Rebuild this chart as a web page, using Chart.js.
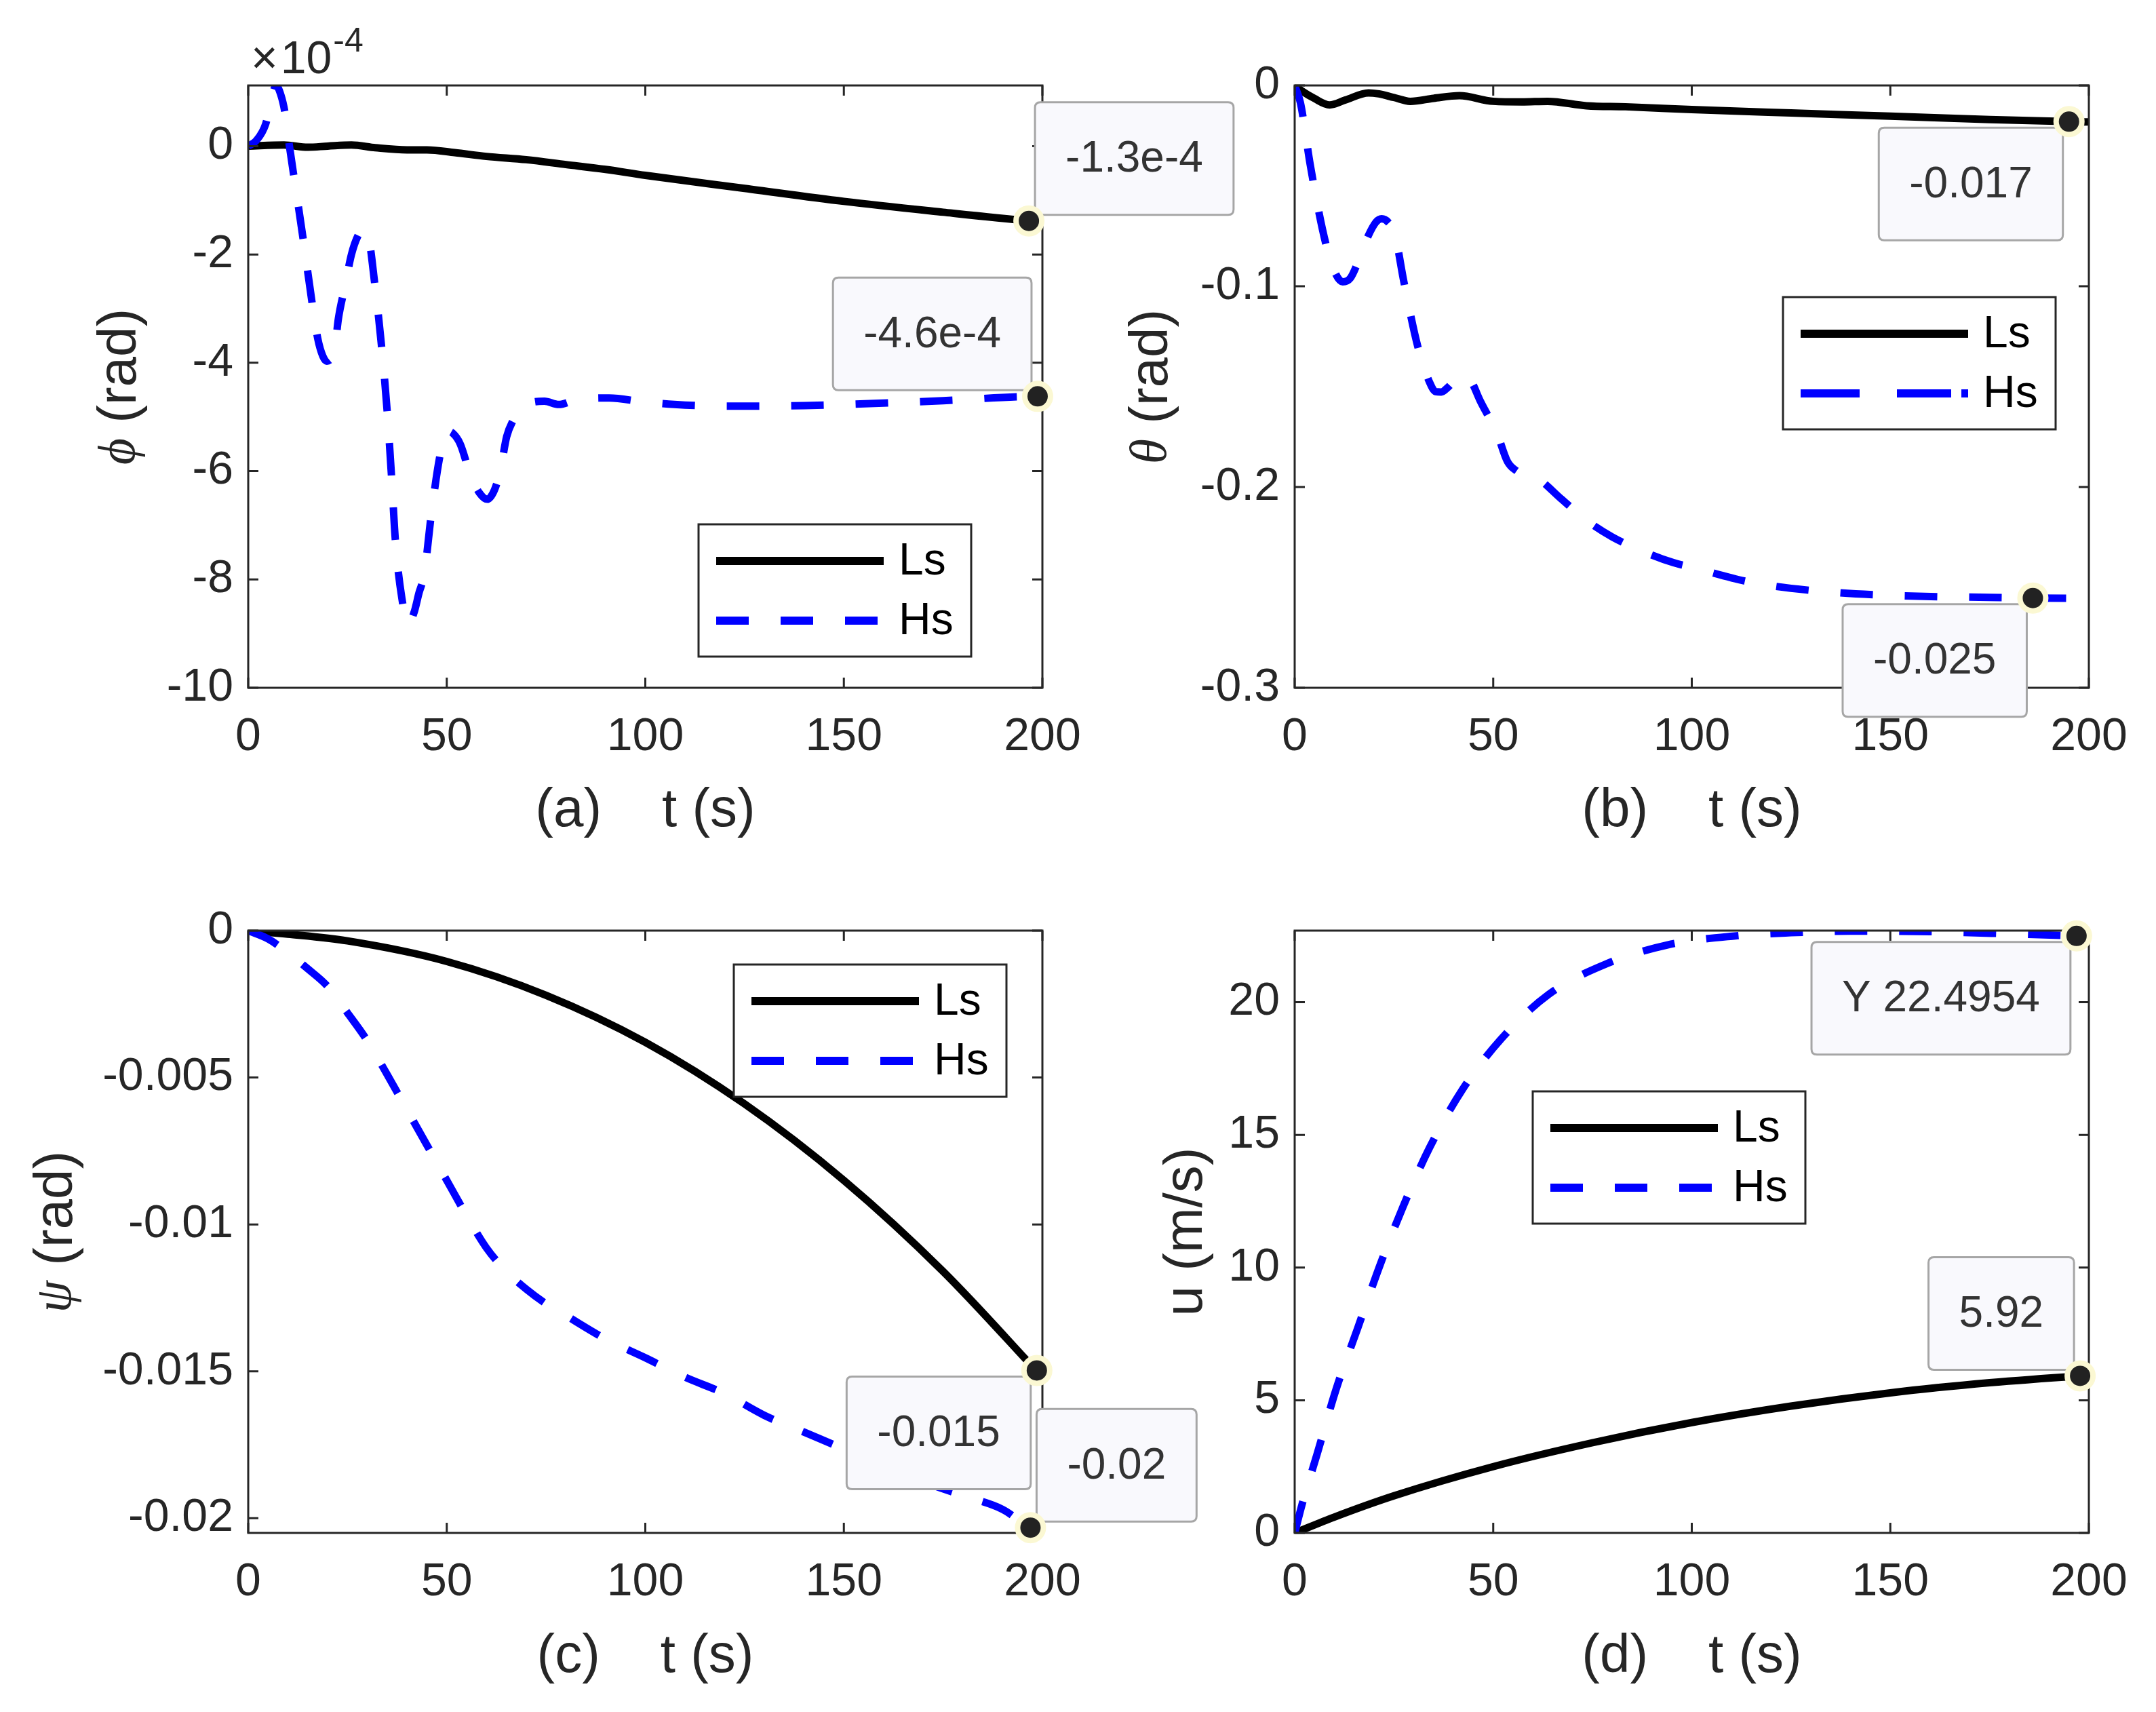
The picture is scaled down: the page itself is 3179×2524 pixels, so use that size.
<!DOCTYPE html>
<html>
<head>
<meta charset="utf-8">
<title>Ls / Hs responses</title>
<script src="https://cdn.jsdelivr.net/npm/chart.js@4.4.1/dist/chart.umd.min.js"></script>
<style>
  html, body { margin: 0; padding: 0; background: #fff; }
  #wrap { position: relative; width: 3179px; height: 2524px; }
  #wrap canvas { position: absolute; left: 0; top: 0; }
</style>
</head>
<body>
<div id="wrap">
  <canvas id="cA" width="3179" height="2524"></canvas>
  <canvas id="cB" width="3179" height="2524"></canvas>
  <canvas id="cC" width="3179" height="2524"></canvas>
  <canvas id="cD" width="3179" height="2524"></canvas>
</div>
<script>
// ---- shared time axis
const tTicks = [0, 50, 100, 150, 200];
const tTickLabels = ['0', '50', '100', '150', '200'];

// ---- (a) phi, values in units of 1e-4 rad
const phiTicks = [0, -2, -4, -6, -8, -10];
const phiTickLabels = ['0', '-2', '-4', '-6', '-8', '-10'];
const phiLsT = [0, 9, 15, 20, 26, 32, 40, 45, 52, 60, 70, 80, 90, 100, 125, 150, 175, 196.6, 200];
const phiLs = [0, 0.02, -0.02, 0, 0.02, -0.03, -0.07, -0.07, -0.12, -0.19, -0.25, -0.34, -0.43, -0.54, -0.78, -1.02, -1.22, -1.38, -1.4];
const phiHsT = [0, 2, 4.4, 5.8, 7, 8.2, 9.3, 10.3, 12, 14, 16, 17.5, 18.8, 19.8, 20.8, 21.7, 22.7, 24.3, 26, 27.6,
  28.9, 30.2, 31.85, 33.6, 35, 36.1, 37.1, 38.7, 40.3, 41.8, 43, 44.3, 46.2, 48.2, 49.9, 51.5, 53.4, 56, 58.2, 60.2,
  62, 63.5, 65.1, 66.8, 68.4, 71, 74.6, 78.2, 82.8, 90.9, 99.4, 110, 125, 140, 150, 175, 198.8, 200];
const phiHs = [0, 0.1, 0.41, 0.85, 1.12, 0.95, 0.6, 0.04, -0.8, -1.8, -2.85, -3.55, -3.88, -3.97, -3.93, -3.8, -3.19, -2.61, -2, -1.66,
  -1.54, -1.65, -2.53, -3.71, -4.9, -6.11, -7.32, -8.35, -8.83, -8.6, -8.25, -7.91, -6.74, -5.75, -5.26, -5.3, -5.5, -6.08, -6.4, -6.52,
  -6.35, -5.98, -5.36, -5.05, -4.85, -4.74, -4.71, -4.77, -4.68, -4.65, -4.72, -4.78, -4.8, -4.79, -4.77, -4.7, -4.62, -4.62];
const phiTipT = [196.6, 198.8];
const phiTipV = [-1.38, -4.62];
const phiTipText = ['-1.3e-4', '-4.6e-4'];

// ---- (b) theta
const thetaTicks = [0, -0.1, -0.2, -0.3];
const thetaTickLabels = ['0', '-0.1', '-0.2', '-0.3'];
const thetaLsT = [0, 2, 4.9, 8.8, 12.7, 18.6, 21.2, 25, 29.1, 35, 41.5, 50, 57.2, 63.7, 73.5, 83.3, 100, 125, 150, 175, 195, 200];
const thetaLs = [0, -0.003, -0.0064, -0.0097, -0.0073, -0.0037, -0.0042, -0.006, -0.0079, -0.0064, -0.0051, -0.0079, -0.0082, -0.0079,
  -0.0101, -0.0106, -0.012, -0.0137, -0.0153, -0.017, -0.018, -0.0182];
const thetaHsT = [0, 1.44, 3.9, 7, 9.5, 12.1, 14, 16, 18.5, 20.5, 21.9, 23.5, 25.2, 27.5, 31, 34, 35.5, 36.9, 38.5, 40.5, 42.8,
  44.5, 46.7, 48.7, 50.7, 53.6, 55.9, 58.5, 61.1, 67, 73.5, 80, 87.9, 95.4, 100.8, 115, 130, 150, 175, 185.9, 200];
const thetaHs = [0, -0.0086, -0.0393, -0.0717, -0.09, -0.0978, -0.096, -0.0877, -0.075, -0.068, -0.0664, -0.068, -0.074, -0.0978,
  -0.13, -0.148, -0.1525, -0.1527, -0.1505, -0.1465, -0.1444, -0.1475, -0.157, -0.1645, -0.1718, -0.1874, -0.192, -0.194, -0.1956,
  -0.2057, -0.2166, -0.2249, -0.2322, -0.2377, -0.2404, -0.2475, -0.2515, -0.254, -0.255, -0.2553, -0.2555];
const thetaTipT = [195, 185.9];
const thetaTipV = [-0.018, -0.2553];
const thetaTipText = ['-0.017', '-0.025'];

// ---- (c) psi
const psiTicks = [0, -0.005, -0.01, -0.015, -0.02];
const psiTickLabels = ['0', '-0.005', '-0.01', '-0.015', '-0.02'];
const psiLsT = [0, 10, 25, 50, 75, 100, 125, 150, 175, 200];
const psiLs = [0, -0.00012, -0.00035, -0.00105, -0.0022, -0.0038, -0.0059, -0.0085, -0.0116, -0.0152];
const psiHsT = [0, 5, 10, 15, 20, 25, 30, 35, 40, 45, 50, 55, 60, 65, 70, 75, 80, 90, 100, 110, 120, 130, 140, 150, 160, 170, 180, 190, 197, 200];
const psiHs = [0, -0.00028, -0.00075, -0.0013, -0.0019, -0.0028, -0.00375, -0.0049, -0.0061, -0.0073, -0.0085, -0.0097, -0.0108,
  -0.0116, -0.0122, -0.0127, -0.0131, -0.0139, -0.01454, -0.0152, -0.01576, -0.0165, -0.01707, -0.01764, -0.0182, -0.01876,
  -0.01923, -0.0197, -0.02032, -0.0204];
const psiTipT = [198.6, 197];
const psiTipV = [-0.01497, -0.02032];
const psiTipText = ['-0.015', '-0.02'];

// ---- (d) u
const uTicks = [0, 5, 10, 15, 20];
const uTickLabels = ['0', '5', '10', '15', '20'];
const uLsT = [0, 10, 25, 50, 75, 100, 125, 150, 175, 197.8, 200];
const uLs = [0, 0.6, 1.4, 2.5, 3.4, 4.16, 4.78, 5.28, 5.66, 5.92, 5.94];
const uHsT = [0, 1.9, 5.7, 10.4, 15.9, 21.4, 27.3, 33.9, 42.2, 51.9, 64, 78.4, 93.9, 110.2, 125, 140, 160, 180, 196.9, 200];
const uHs = [0, 1.1, 3.0, 5.4, 7.73, 10.06, 12.3, 14.5, 16.7, 18.6, 20.3, 21.44, 22.16, 22.49, 22.62, 22.68, 22.66, 22.58, 22.5, 22.48];
const uTipT = [196.9, 197.8];
const uTipV = [22.5, 5.92];
const uTipText = ['Y 22.4954', '5.92'];

const FONT = '"Liberation Sans", Arimo, Arial, sans-serif';
const GREEK = '"Liberation Serif", "DejaVu Serif", serif';
const AXIS = '#262626';
const PAGE_W = 3179, PAGE_H = 2524;
const Y_BOX = 300, X_BOX = 250;

function pts(ts, vs) {
  return ts.map((t, i) => ({ x: t, y: vs[i] }));
}

function roundRect(ctx, x, y, w, h, r) {
  ctx.beginPath();
  ctx.moveTo(x + r, y);
  ctx.lineTo(x + w - r, y);
  ctx.quadraticCurveTo(x + w, y, x + w, y + r);
  ctx.lineTo(x + w, y + h - r);
  ctx.quadraticCurveTo(x + w, y + h, x + w - r, y + h);
  ctx.lineTo(x + r, y + h);
  ctx.quadraticCurveTo(x, y + h, x, y + h - r);
  ctx.lineTo(x, y + r);
  ctx.quadraticCurveTo(x, y, x + r, y);
  ctx.closePath();
}

function makePanel(p) {
  // draws frame, inner ticks, y title, legend and datatips
  const decor = {
    id: 'decor',
    afterDatasetDraw(chart, args) {
      if (args.index !== 1) return;
      const { ctx, chartArea: a, scales: { x, y } } = chart;
      ctx.save();

      // inward ticks on all four sides + box
      ctx.strokeStyle = AXIS;
      ctx.lineWidth = 3;
      ctx.beginPath();
      x.ticks.forEach(tk => {
        const px = x.getPixelForValue(tk.value);
        ctx.moveTo(px, a.bottom); ctx.lineTo(px, a.bottom - 15);
        ctx.moveTo(px, a.top); ctx.lineTo(px, a.top + 15);
      });
      y.ticks.forEach(tk => {
        const py = y.getPixelForValue(tk.value);
        ctx.moveTo(a.left, py); ctx.lineTo(a.left + 15, py);
        ctx.moveTo(a.right, py); ctx.lineTo(a.right - 15, py);
      });
      ctx.stroke();
      ctx.strokeRect(a.left, a.top, a.right - a.left, a.bottom - a.top);

      // y title (greek symbol in italic)
      ctx.save();
      ctx.translate(p.yTitleX, (a.top + a.bottom) / 2);
      ctx.rotate(-Math.PI / 2);
      ctx.textBaseline = 'middle';
      ctx.textAlign = 'left';
      ctx.fillStyle = AXIS;
      const symFont = p.symItalic ? 'italic 76px ' + GREEK : '80px ' + FONT;
      ctx.font = symFont;
      const w1 = ctx.measureText(p.ySym).width;
      ctx.font = '80px ' + FONT;
      const w2 = ctx.measureText(p.yRest).width;
      const x0 = -(w1 + w2) / 2;
      ctx.font = symFont;
      ctx.fillText(p.ySym, x0, 0);
      ctx.font = '80px ' + FONT;
      ctx.fillText(p.yRest, x0 + w1, 0);
      ctx.restore();

      // exponent label above the axis
      if (p.exponent) {
        ctx.fillStyle = AXIS;
        ctx.textBaseline = 'alphabetic';
        ctx.textAlign = 'left';
        let ex = a.left + 4;
        ctx.font = '68px ' + FONT;
        ctx.fillText('\u00d7', ex, 108);
        ex += ctx.measureText('\u00d7').width + 4;
        ctx.fillText('10', ex, 108);
        ex += ctx.measureText('10').width + 2;
        ctx.font = '50px ' + FONT;
        ctx.fillText(p.exponent, ex, 76);
      }

      // legend box
      const L = a.left + p.legend.x, T = a.top + p.legend.y, LW = 402, LH = 195;
      ctx.fillStyle = '#fff';
      ctx.fillRect(L, T, LW, LH);
      ctx.lineWidth = 3;
      ctx.strokeStyle = AXIS;
      ctx.strokeRect(L, T, LW, LH);
      ctx.lineCap = 'butt';
      ctx.lineWidth = 12;
      ctx.strokeStyle = '#000';
      ctx.setLineDash([]);
      ctx.beginPath(); ctx.moveTo(L + 26, T + 54); ctx.lineTo(L + 273, T + 54); ctx.stroke();
      ctx.strokeStyle = '#0000ff';
      ctx.setLineDash(p.legendDash || [48, 47]);
      ctx.beginPath(); ctx.moveTo(L + 26, T + 142); ctx.lineTo(L + 273, T + 142); ctx.stroke();
      ctx.setLineDash([]);
      ctx.fillStyle = '#000';
      ctx.font = '66px ' + FONT;
      ctx.textBaseline = 'middle';
      ctx.textAlign = 'left';
      ctx.fillText('Ls', L + 295, T + 56);
      ctx.fillText('Hs', L + 295, T + 144);

      // datatip boxes
      p.tipT.forEach((t, i) => {
        const px = x.getPixelForValue(t), py = y.getPixelForValue(p.tipV[i]);
        ctx.font = '64px ' + FONT;
        const tw = ctx.measureText(p.tipText[i]).width;
        const bw = tw + 90, bh = 166;
        const side = p.tipSide[i];
        const bx = side[1] === 'r' ? px + 9 : px - 9 - bw;
        const by = side[0] === 'u' ? py - 9 - bh : py + 9;
        roundRect(ctx, bx, by, bw, bh, 8);
        ctx.fillStyle = '#f9f9fd';
        ctx.fill();
        ctx.lineWidth = 3;
        ctx.strokeStyle = '#a6a6a6';
        ctx.stroke();
        ctx.fillStyle = '#333';
        ctx.textAlign = 'center';
        ctx.textBaseline = 'middle';
        ctx.fillText(p.tipText[i], bx + bw / 2, by + bh / 2 + 2);
      });
      ctx.restore();
    }
  };

  const a = p.area;
  new Chart(document.getElementById(p.id), {
    type: 'line',
    data: {
      datasets: [
        {
          label: 'Ls', data: pts(p.lsT, p.ls), borderColor: '#000', borderWidth: 11,
          pointRadius: 0, cubicInterpolationMode: 'monotone', fill: false, order: 3, clip: 0
        },
        {
          label: 'Hs', data: pts(p.hsT, p.hs), borderColor: '#0000ff', borderWidth: 11, borderDash: [48, 47],
          borderCapStyle: 'butt', pointRadius: 0, cubicInterpolationMode: 'monotone', fill: false, order: 2, clip: 0
        },
        {
          label: 'tips', data: pts(p.tipT, p.tipV), showLine: false, pointRadius: 19, pointBorderWidth: 8,
          pointBackgroundColor: '#222', pointBorderColor: '#fbf8d3', order: 1, clip: false
        }
      ]
    },
    options: {
      responsive: false,
      animation: false,
      devicePixelRatio: 1,
      events: [],
      layout: {
        padding: { left: a.l - Y_BOX, right: PAGE_W - a.r, top: a.t, bottom: PAGE_H - a.b - X_BOX }
      },
      plugins: { legend: { display: false }, tooltip: { enabled: false } },
      scales: {
        x: {
          type: 'linear', min: 0, max: 200,
          afterBuildTicks: s => { s.ticks = tTicks.map(v => ({ value: v })); },
          afterFit: s => { s.height = X_BOX; },
          grid: { display: false, drawTicks: false },
          border: { display: false },
          ticks: {
            callback: (v, i) => tTickLabels[i], autoSkip: false, maxRotation: 0,
            padding: 32, color: AXIS, font: { family: FONT, size: 68 }
          },
          title: {
            display: true, text: p.xTitle, color: AXIS,
            font: { family: FONT, size: 80 },
            padding: { top: 0, bottom: a.b + X_BOX - 48 - p.xTitleY }
          }
        },
        y: {
          type: 'linear', min: p.yMin, max: p.yMax,
          afterBuildTicks: s => { s.ticks = p.yTicks.map(v => ({ value: v })); },
          afterFit: s => { s.width = Y_BOX; },
          grid: { display: false, drawTicks: false },
          border: { display: false },
          ticks: {
            callback: (v, i) => p.yTickLabels[i], autoSkip: false,
            padding: 22, color: AXIS, font: { family: FONT, size: 68 }
          }
        }
      }
    },
    plugins: [decor]
  });
}

makePanel({
  id: 'cA', area: { l: 366, r: 1537, t: 126, b: 1014 },
  yMin: -10, yMax: 1.12, yTicks: phiTicks, yTickLabels: phiTickLabels,
  lsT: phiLsT, ls: phiLs, hsT: phiHsT, hs: phiHs,
  tipT: phiTipT, tipV: phiTipV, tipText: phiTipText, tipSide: ['ur', 'ul'],
  xTitle: '(a)    t (s)', xTitleY: 1196,
  ySym: '\u03d5', yRest: ' (rad)', symItalic: true, yTitleX: 178,
  exponent: '-4', legend: { x: 664, y: 647 }
});

makePanel({
  id: 'cB', area: { l: 1909, r: 3080, t: 126, b: 1014 },
  yMin: -0.3, yMax: 0, yTicks: thetaTicks, yTickLabels: thetaTickLabels,
  lsT: thetaLsT, ls: thetaLs, hsT: thetaHsT, hs: thetaHs,
  tipT: thetaTipT, tipV: thetaTipV, tipText: thetaTipText, tipSide: ['ll', 'll'],
  xTitle: '(b)    t (s)', xTitleY: 1196,
  ySym: '\u03b8', yRest: ' (rad)', symItalic: true, yTitleX: 1699,
  legend: { x: 720, y: 312 }, legendDash: [87, 55, 80, 15]
});

makePanel({
  id: 'cC', area: { l: 366, r: 1537, t: 1372, b: 2260 },
  yMin: -0.0205, yMax: 0, yTicks: psiTicks, yTickLabels: psiTickLabels,
  lsT: psiLsT, ls: psiLs, hsT: psiHsT, hs: psiHs,
  tipT: psiTipT, tipV: psiTipV, tipText: psiTipText, tipSide: ['ll', 'ur'],
  xTitle: '(c)    t (s)', xTitleY: 2443,
  ySym: '\u03c8', yRest: ' (rad)', symItalic: true, yTitleX: 84,
  legend: { x: 716, y: 50 }
});

makePanel({
  id: 'cD', area: { l: 1909, r: 3080, t: 1372, b: 2260 },
  yMin: 0, yMax: 22.7, yTicks: uTicks, yTickLabels: uTickLabels,
  lsT: uLsT, ls: uLs, hsT: uHsT, hs: uHs,
  tipT: uTipT, tipV: uTipV, tipText: uTipText, tipSide: ['ll', 'ul'],
  xTitle: '(d)    t (s)', xTitleY: 2443,
  ySym: 'u', yRest: ' (m/s)', symItalic: false, yTitleX: 1750,
  legend: { x: 351, y: 237 }
});
</script>
</body>
</html>
